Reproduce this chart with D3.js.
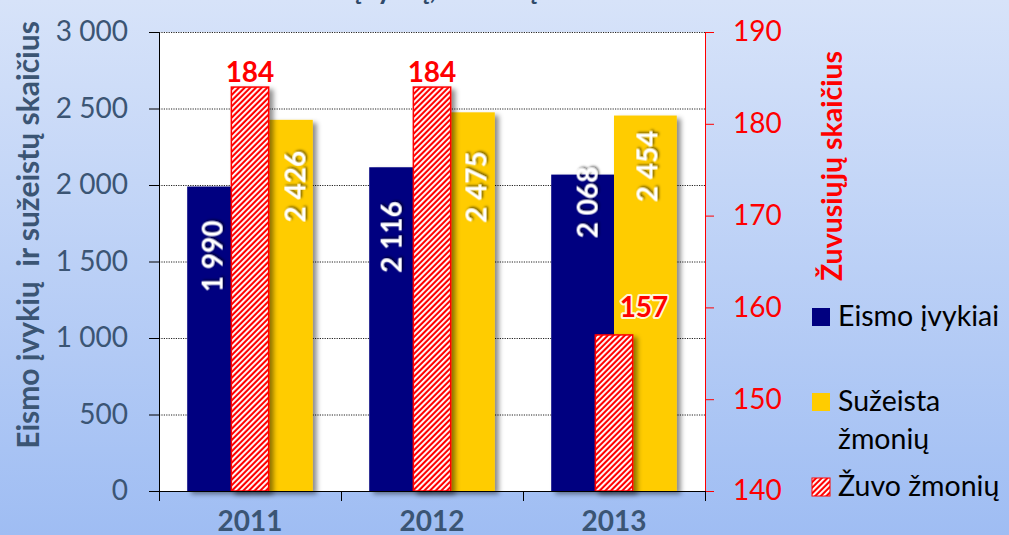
<!DOCTYPE html>
<meta charset="utf-8">
<script src="https://d3js.org/d3.v7.min.js"></script>
<style>
  body { margin: 0; }
  svg text { font-family: Lato, "Noto Sans", sans-serif; }
</style>
<body>
<div id="chart"></div>
<script>
// ---- data ----
var years = ["2011", "2012", "2013"];
var accidents = [1990, 2116, 2068];   // Eismo įvykiai (left axis)
var injured = [2426, 2475, 2454];     // Sužeista žmonių (left axis)
var killed = [184, 184, 157];         // Žuvo žmonių (right axis)
var leftTicks = [0, 500, 1000, 1500, 2000, 2500, 3000];
var rightTicks = [140, 150, 160, 170, 180, 190];
var legendNames = [["Eismo įvykiai"], ["Sužeista", "žmonių"], ["Žuvo žmonių"]];

// labels were dragged around by hand in the original, so keep their nudges (px)
var accNudge = [[-6, 70], [-9, 70], [5, 28]];
var injNudge = [[14, 67], [13, 75], [2, 51]];
var killNudge = [[0, -5], [0, -5], [30, -18]];

var W = 1009, H = 535;
var plot = {left: 159, right: 705, top: 32, bottom: 491};
var navy = "#000080", gold = "#ffcc00", red = "#ff0000", slate = "#3b5574";

var fmt = d3.formatLocale({decimal: ",", thousands: " ", grouping: [3], currency: ["", ""]}).format(",");

var svg = d3.select("#chart").append("svg")
    .attr("width", W)
    .attr("height", H);

var defs = svg.append("defs");

var bg = defs.append("linearGradient").attr("id", "bg")
    .attr("x1", 0).attr("y1", 0).attr("x2", 0).attr("y2", 1);
bg.append("stop").attr("offset", "0%").attr("stop-color", "#d7e3f9");
bg.append("stop").attr("offset", "100%").attr("stop-color", "#9fbdf3");

var hatch = defs.append("pattern").attr("id", "hatch")
    .attr("patternUnits", "userSpaceOnUse")
    .attr("width", 4).attr("height", 4)
    .attr("patternTransform", "rotate(45)");
hatch.append("rect").attr("width", 4).attr("height", 4).attr("fill", red);
hatch.append("rect").attr("width", 1.9).attr("height", 4).attr("fill", "#fff");

defs.append("filter").attr("id", "shadow")
    .attr("x", "-30%").attr("y", "-10%").attr("width", "170%").attr("height", "130%")
  .append("feDropShadow")
    .attr("dx", 4).attr("dy", 3).attr("stdDeviation", 2.5)
    .attr("flood-color", "#000").attr("flood-opacity", 0.45);

defs.append("filter").attr("id", "tshadow")
    .attr("x", "-30%").attr("y", "-30%").attr("width", "170%").attr("height", "170%")
  .append("feDropShadow")
    .attr("dx", 1.5).attr("dy", 1.5).attr("stdDeviation", 1.2)
    .attr("flood-color", "#000").attr("flood-opacity", 0.6);

// background + plot area
svg.append("rect").attr("width", W).attr("height", H).attr("fill", "url(#bg)");
svg.append("rect")
    .attr("x", plot.left).attr("y", plot.top)
    .attr("width", plot.right - plot.left).attr("height", plot.bottom - plot.top)
    .attr("fill", "#fff");

// scales
var x = d3.scaleBand().domain(years).range([plot.left, plot.right]);
var y = d3.scaleLinear().domain([0, 3000]).range([plot.bottom, plot.top]);
var y2 = d3.scaleLinear().domain([140, 190]).range([plot.bottom, plot.top]);
var groupW = x.bandwidth() * 0.69;
var sub = d3.scaleBand().domain(["acc", "inj"]).range([0, groupW]);
var redW = x.bandwidth() * 0.205;
function gx(yr) { return x(yr) + (x.bandwidth() - groupW) / 2; }
function mid(yr) { return x(yr) + x.bandwidth() / 2; }

// dotted gridlines
svg.append("g")
    .attr("transform", "translate(" + plot.left + ",0)")
    .call(d3.axisLeft(y).tickValues(leftTicks.slice(1)).tickSize(-(plot.right - plot.left)).tickFormat(""))
    .call(function(g) {
      g.select(".domain").remove();
      g.selectAll("line").attr("stroke", "#222").attr("stroke-dasharray", "1.2,1.2");
    });

// bars
var bars = svg.append("g");
bars.selectAll(".acc").data(accidents).enter().append("rect")
    .attr("x", function(d, i) { return gx(years[i]) + sub("acc"); })
    .attr("y", function(d) { return y(d); })
    .attr("width", sub.bandwidth())
    .attr("height", function(d) { return y(0) - y(d); })
    .attr("fill", navy)
    .attr("filter", "url(#shadow)");
bars.selectAll(".inj").data(injured).enter().append("rect")
    .attr("x", function(d, i) { return gx(years[i]) + sub("inj"); })
    .attr("y", function(d) { return y(d); })
    .attr("width", sub.bandwidth())
    .attr("height", function(d) { return y(0) - y(d); })
    .attr("fill", gold)
    .attr("filter", "url(#shadow)");
bars.selectAll(".kill").data(killed).enter().append("rect")
    .attr("x", function(d, i) { return mid(years[i]) - redW / 2; })
    .attr("y", function(d) { return y2(d); })
    .attr("width", redW)
    .attr("height", function(d) { return y2(140) - y2(d); })
    .attr("fill", "url(#hatch)")
    .attr("stroke", red)
    .attr("stroke-width", 1.5)
    .attr("filter", "url(#shadow)");

// left axis
svg.append("g")
    .attr("transform", "translate(" + plot.left + ",0)")
    .call(d3.axisLeft(y).tickValues(leftTicks).tickSize(10).tickSizeOuter(0).tickPadding(21).tickFormat(fmt))
    .call(function(g) {
      g.selectAll("line, path").attr("stroke", "#000");
      g.selectAll("text").attr("fill", slate).attr("font-size", 28)
        .attr("font-family", "Lato, sans-serif");
    });

// right axis
svg.append("g")
    .attr("transform", "translate(" + plot.right + ",0)")
    .call(d3.axisRight(y2).tickValues(rightTicks).tickSize(9).tickSizeOuter(0).tickPadding(19))
    .call(function(g) {
      g.selectAll("line, path").attr("stroke", red);
      g.selectAll("text").attr("fill", red).attr("font-size", 28)
        .attr("font-family", "Lato, sans-serif");
    });

// bottom axis: ticks on the category edges, labels in the middle
var edges = d3.scaleLinear().domain([0, years.length]).range([plot.left, plot.right]);
svg.append("g")
    .attr("transform", "translate(0," + plot.bottom + ")")
    .call(d3.axisBottom(edges).tickValues(d3.range(years.length + 1)).tickSize(10).tickSizeOuter(0).tickFormat(""))
    .call(function(g) { g.selectAll("line, path").attr("stroke", "#000"); });
svg.append("g")
    .attr("transform", "translate(0," + plot.bottom + ")")
    .call(d3.axisBottom(x).tickSize(0).tickPadding(0))
    .call(function(g) {
      g.select(".domain").remove();
      g.selectAll("text").attr("fill", slate).attr("font-size", 28).attr("font-weight", "bold")
        .attr("font-family", "Lato, sans-serif")
        .attr("dy", null).attr("y", 40);
    });

// value labels
svg.append("g").selectAll("text").data(accidents).enter().append("text")
    .attr("transform", function(d, i) {
      return "translate(" + (gx(years[i]) + sub("acc") + sub.bandwidth() / 2 + accNudge[i][0]) + "," +
             (y(d) + accNudge[i][1]) + ") rotate(-90)";
    })
    .attr("text-anchor", "middle").attr("dy", "0.36em")
    .attr("fill", "#fff").attr("font-weight", "bold").attr("font-size", 28)
    .attr("filter", "url(#tshadow)")
    .text(function(d) { return fmt(d); });

svg.append("g").selectAll("text").data(injured).enter().append("text")
    .attr("transform", function(d, i) {
      return "translate(" + (gx(years[i]) + sub("inj") + sub.bandwidth() / 2 + injNudge[i][0]) + "," +
             (y(d) + injNudge[i][1]) + ") rotate(-90)";
    })
    .attr("text-anchor", "middle").attr("dy", "0.36em")
    .attr("fill", "#fff").attr("font-weight", "bold").attr("font-size", 28)
    .attr("filter", "url(#tshadow)")
    .text(function(d) { return fmt(d); });

svg.append("g").selectAll("text").data(killed).enter().append("text")
    .attr("x", function(d, i) { return mid(years[i]) + killNudge[i][0]; })
    .attr("y", function(d, i) { return y2(d) + killNudge[i][1]; })
    .attr("text-anchor", "middle")
    .attr("fill", red).attr("font-weight", "bold").attr("font-size", 28)
    .attr("stroke", "#fff").attr("stroke-width", 4).attr("stroke-opacity", 0.85)
    .attr("stroke-linejoin", "round").attr("paint-order", "stroke")
    .text(function(d) { return d; });

// axis titles
svg.append("text")
    .attr("transform", "translate(39,235) rotate(-90)")
    .attr("text-anchor", "middle")
    .attr("fill", slate).attr("font-weight", "bold").attr("font-size", 30)
    .style("white-space", "pre")
    .text("Eismo įvykių  ir sužeistų skaičius");

svg.append("text")
    .attr("transform", "translate(842,166) rotate(-90)")
    .attr("text-anchor", "middle")
    .attr("fill", red).attr("font-weight", "bold").attr("font-size", 28.5)
    .text("Žuvusiųjų skaičius");

// chart title, pushed mostly off the top edge like in the original
var title = svg.append("text")
    .attr("y", -1)
    .attr("fill", "#2f4a6a").attr("font-weight", "bold").attr("font-size", 28)
    .style("white-space", "pre")
    .text("Eismo ");
var lead = title.node().getComputedTextLength();
title.attr("x", 355 - lead).text("Eismo įvykių, žuvusių skaičius");

// legend
var swatch = [navy, gold, "url(#hatch)"];
var legY = [308, 393, 478];
var leg = svg.append("g").selectAll("g").data(legendNames).enter().append("g")
    .attr("transform", function(d, i) { return "translate(812," + legY[i] + ")"; });
leg.append("rect")
    .attr("width", 18).attr("height", 18)
    .attr("fill", function(d, i) { return swatch[i]; })
    .attr("stroke", function(d, i) { return i === 2 ? red : "none"; })
    .attr("stroke-width", 1);
leg.selectAll("text").data(function(d) { return d; }).enter().append("text")
    .attr("x", 26)
    .attr("y", function(d, j) { return 18 + j * 38; })
    .attr("fill", "#000").attr("font-size", 28.5)
    .text(function(d) { return d; });
</script>
</body>
